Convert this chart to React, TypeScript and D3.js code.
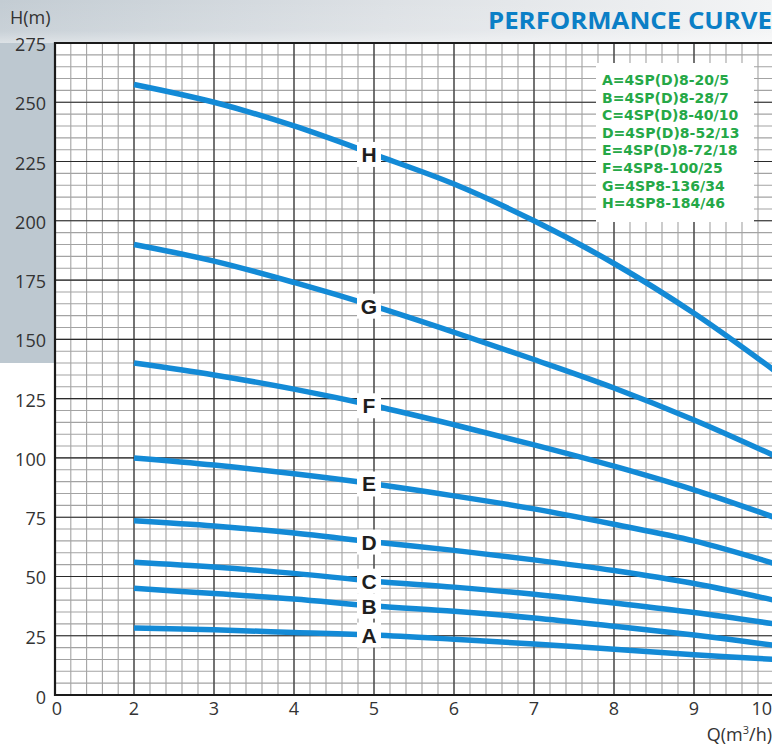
import React from "react";
import * as d3 from "d3";

const flows = [2, 3, 4, 5, 6, 7, 8, 9, 10];
const curveNames = ["A", "B", "C", "D", "E", "F", "G", "H"];
const headA = [28.3, 27.5, 26.4, 25.3, 23.5, 21.5, 19.3, 17, 15];
const headB = [45, 42.8, 40.5, 37.5, 35.3, 32.5, 29, 25.3, 21];
const headC = [56, 54, 51.3, 48, 45.5, 42.5, 38.8, 34.8, 30];
const headD = [73.5, 71.3, 68.3, 64.5, 61, 57, 52.5, 47, 40];
const headE = [100, 97, 93.3, 89, 84, 78.5, 72, 65, 55.5];
const headF = [140, 135, 129, 122, 114, 105.5, 96.5, 86.5, 75];
const headG = [190, 183, 174, 164, 153, 141.5, 129.5, 116, 101];
const headH = [257.5, 250, 240, 228, 215.5, 200, 182, 161, 137];
const seriesHeads = [headA, headB, headC, headD, headE, headF, headG, headH];
const legendLines = [
  "A=4SP(D)8-20/5",
  "B=4SP(D)8-28/7",
  "C=4SP(D)8-40/10",
  "D=4SP(D)8-52/13",
  "E=4SP(D)8-72/18",
  "F=4SP8-100/25",
  "G=4SP8-136/34",
  "H=4SP8-184/46",
];
const xTickLabels = [0, 2, 3, 4, 5, 6, 7, 8, 9, 10];
const yTickLabels = [0, 25, 50, 75, 100, 125, 150, 175, 200, 225, 250, 275];
const labelFlow = 5;

const W = 772;
const H = 745;
const x = d3.scaleLinear().domain([0, 2, 10]).range([55, 134, 774]);
const y = d3.scaleLinear().domain([0, 275]).range([695, 43]);

const BLUE = "#138ad6";

export default function App() {
  const minorX: number[] = [];
  for (let i = 1; i < 5; i++) minorX.push(i * 0.4);
  for (let v = 2; v <= 10.001; v += 0.2) minorX.push(+v.toFixed(1));
  const majorX = d3.range(2, 11, 1);
  const minorY = d3.range(5, 276, 5);
  const majorY = d3.range(25, 276, 25);

  const line = d3
    .line<number>()
    .x((_, i) => x(flows[i]))
    .y((d) => y(d))
    .curve(d3.curveCatmullRom.alpha(0.5));

  const tickFont = "'Open Sans', 'Noto Sans', sans-serif";

  return (
    <svg
      width={W}
      height={H}
      style={{ position: "absolute", left: 0, top: 0, display: "block" }}
    >
      <defs>
        <linearGradient id="topband" x1="0" y1="0" x2="1" y2="0">
          <stop offset="0" stopColor="#c3ccd3" />
          <stop offset="0.5" stopColor="#dde1e5" />
          <stop offset="1" stopColor="#f3f4f5" />
        </linearGradient>
        <linearGradient id="topfade" x1="0" y1="0" x2="0" y2="1">
          <stop offset="0" stopColor="#ffffff" stopOpacity="0" />
          <stop offset="0.7" stopColor="#ffffff" stopOpacity="0.1" />
          <stop offset="1" stopColor="#ffffff" stopOpacity="0.45" />
        </linearGradient>
        <clipPath id="plotclip">
          <rect x={55} y={40} width={W - 55} height={660} />
        </clipPath>
      </defs>
      <rect x={0} y={0} width={W} height={H} fill="#ffffff" />
      <rect x={0} y={0} width={W} height={44} fill="url(#topband)" />
      <rect x={0} y={0} width={W} height={44} fill="url(#topfade)" />
      <rect x={0} y={43} width={56} height={320} fill="#bdc8d0" />
      <rect x={55} y={43} width={W - 55} height={652} fill="#ffffff" />

      {/* minor grid */}
      <g stroke="#a3a3a3" strokeWidth={1.1}>
        {minorX.map((v, i) => (
          <line key={"mx" + i} x1={x(v)} x2={x(v)} y1={y(275)} y2={y(0)} />
        ))}
        {minorY.map((v, i) => (
          <line key={"my" + i} x1={x(0)} x2={W} y1={y(v)} y2={y(v)} />
        ))}
      </g>
      {/* major grid */}
      <g stroke="#2a2a2a" strokeWidth={1.1}>
        {majorX.map((v) => (
          <line key={"Mx" + v} x1={x(v)} x2={x(v)} y1={y(275)} y2={y(0)} />
        ))}
        {majorY.map((v) => (
          <line key={"My" + v} x1={x(0)} x2={W} y1={y(v)} y2={y(v)} />
        ))}
      </g>
      {/* axes frame */}
      <line x1={x(0)} x2={W} y1={y(275)} y2={y(275)} stroke="#1a1a1a" strokeWidth={1.8} />
      <line x1={x(0)} x2={x(0)} y1={y(275) - 1} y2={y(0) + 1} stroke="#1a1a1a" strokeWidth={2.2} />
      <line x1={x(0) - 1} x2={W} y1={y(0)} y2={y(0)} stroke="#1a1a1a" strokeWidth={2.2} />

      {/* legend box */}
      <rect x={596} y={63} width={158} height={159} fill="#ffffff" />
      <g
        fontFamily="'DejaVu Sans', sans-serif"
        fontWeight="bold"
        fontSize={14}
        fill="#25a847"
      >
        {legendLines.map((t, i) => (
          <text key={t} x={602} y={85 + i * 17.6}>
            {t}
          </text>
        ))}
      </g>

      {/* curves */}
      <g clipPath="url(#plotclip)">
        {seriesHeads.map((s, i) => (
          <path
            key={curveNames[i]}
            d={line(s) || ""}
            fill="none"
            stroke={BLUE}
            strokeWidth={5.5}
            strokeLinecap="butt"
          />
        ))}
      </g>

      {/* curve labels */}
      {seriesHeads.map((s, i) => {
        const yy = y(s[flows.indexOf(labelFlow)]);
        const xx = x(labelFlow) - 5;
        return (
          <g key={"lab" + i}>
            <rect x={xx - 12} y={yy - 12.5} width={24} height={25} fill="#ffffff" />
            <text
              x={xx}
              y={yy + 7.5}
              textAnchor="middle"
              fontFamily="'Liberation Sans', Arial, sans-serif"
              fontWeight="bold"
              fontSize={21}
              fill="#1e1e1e"
            >
              {curveNames[i]}
            </text>
          </g>
        );
      })}

      {/* y tick labels */}
      <g fontFamily={tickFont} fontSize={18} fill="#333" textAnchor="end">
        {yTickLabels.map((v) => (
          <text key={"yt" + v} x={46} y={y(v) + (v === 0 ? 9 : 8)}>
            {v}
          </text>
        ))}
      </g>
      {/* x tick labels */}
      <g fontFamily={tickFont} fontSize={18} fill="#333">
        {xTickLabels.map((v) => {
          const last = v === xTickLabels[xTickLabels.length - 1];
          return (
            <text
              key={"xt" + v}
              x={last ? W : v === 0 ? x(v) + 2 : x(v)}
              y={715}
              textAnchor={last ? "end" : "middle"}
            >
              {v}
            </text>
          );
        })}
      </g>

      <text x={10} y={24} fontFamily={tickFont} fontSize={18} fill="#333">
        H(m)
      </text>
      <text x={W} y={741} fontFamily={tickFont} fontSize={18} fill="#333" textAnchor="end">
        Q(m<tspan dy={-7} fontSize={11}>3</tspan>
        <tspan dy={7}>/h)</tspan>
      </text>

      <text
        x={W}
        y={29}
        textAnchor="end"
        fontFamily="'Open Sans', 'Noto Sans', sans-serif"
        fontWeight="bold"
        fontSize={24}
        fill="#0b7fc6"
        textLength={284}
        lengthAdjust="spacingAndGlyphs"
      >
        PERFORMANCE CURVE
      </text>
    </svg>
  );
}
